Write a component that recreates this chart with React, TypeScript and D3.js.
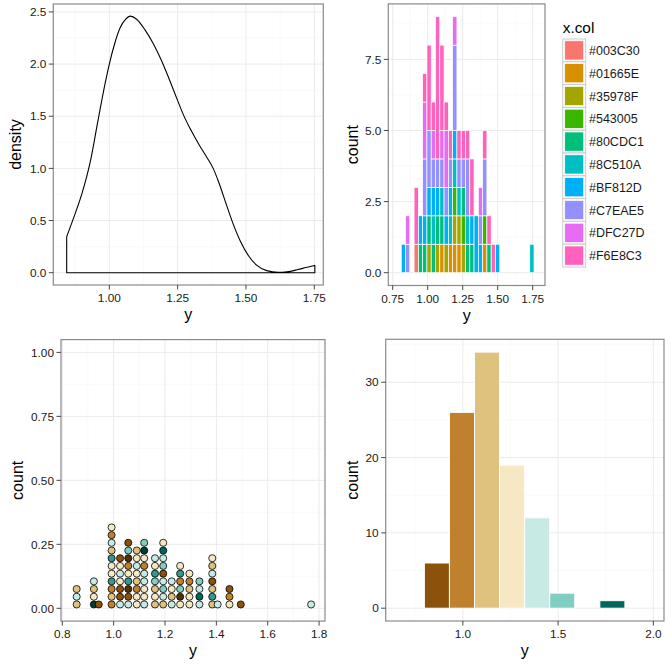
import React from "react";
import * as d3 from "d3";

const FONT = "'Liberation Sans', Arial, Helvetica, sans-serif";
const TEXT_COLOR = "#1A1A1A";
const TICK_COLOR = "#333333";

// ---------- Panel 1: density ----------
const densX = [0.844, 0.87, 0.9, 0.93, 0.96, 0.985, 1.0, 1.02, 1.04, 1.06, 1.076, 1.1, 1.13, 1.16, 1.19, 1.22, 1.25, 1.27, 1.3, 1.33, 1.356, 1.38, 1.4, 1.43, 1.45, 1.48, 1.51, 1.54, 1.576, 1.618, 1.65, 1.69, 1.72, 1.752];
const densY = [0.345, 0.53, 0.76, 1.06, 1.48, 1.82, 2.0, 2.2, 2.35, 2.43, 2.46, 2.43, 2.33, 2.2, 2.04, 1.85, 1.65, 1.52, 1.36, 1.22, 1.11, 1.0, 0.87, 0.64, 0.49, 0.3, 0.16, 0.07, 0.02, 0.003, 0.008, 0.03, 0.05, 0.07];
const p1XTicks = [1.0, 1.25, 1.5, 1.75];
const p1XLabels = ["1.00", "1.25", "1.50", "1.75"];
const p1YTicks = [0, 0.5, 1, 1.5, 2, 2.5];
const p1YLabels = ["0.0", "0.5", "1.0", "1.5", "2.0", "2.5"];

// ---------- Panel 2: stacked histogram ----------
const legendLevels = ["#003C30", "#01665E", "#35978F", "#543005", "#80CDC1", "#8C510A", "#BF812D", "#C7EAE5", "#DFC27D", "#F6E8C3"];
const hueColors = ["#F8766D", "#D89000", "#A3A500", "#39B600", "#00BF7D", "#00BFC4", "#00B0F6", "#9590FF", "#E76BF3", "#FF62BC"];
const histStart = 0.811;
const histBinWidth = 0.0306;
// per bin: [level (1-based), count], stacked bottom -> top
const histStacks: number[][][] = [
  [[7, 1]],
  [[8, 1], [9, 1]],
  [],
  [[1, 1], [10, 2]],
  [[5, 1], [7, 1]],
  [[5, 1], [7, 1], [8, 2], [9, 2], [10, 1]],
  [[3, 1], [5, 1], [7, 1], [8, 2], [10, 3]],
  [[5, 1], [6, 1], [7, 1], [8, 1], [9, 1], [10, 1]],
  [[3, 1], [5, 1], [7, 1], [8, 1], [10, 5]],
  [[2, 1], [5, 1], [6, 1], [8, 1], [9, 1], [10, 3]],
  [[3, 1], [7, 1], [8, 1], [9, 2], [10, 1]],
  [[2, 1], [6, 1], [7, 1], [8, 1], [10, 1]],
  [[2, 1], [3, 1], [4, 1], [6, 1], [7, 1], [8, 3], [9, 1]],
  [[2, 1], [3, 1], [6, 1], [8, 1], [10, 1]],
  [[3, 1], [4, 1], [5, 1], [8, 1], [10, 1]],
  [[5, 1], [6, 1], [8, 2], [10, 1]],
  [[5, 1], [7, 1], [10, 2]],
  [[7, 2]],
  [[7, 1], [8, 1], [9, 1]],
  [[2, 1], [4, 1], [8, 2], [10, 1]],
  [[5, 1], [10, 1]],
  [[10, 1]],
  [[7, 1]],
  [], [], [], [], [], [], [],
  [[6, 1]],
];
const p2XTicks = [0.75, 1.0, 1.25, 1.5, 1.75];
const p2XLabels = ["0.75", "1.00", "1.25", "1.50", "1.75"];
const p2YTicks = [0, 2.5, 5, 7.5];
const p2YLabels = ["0.0", "2.5", "5.0", "7.5"];

// ---------- Panel 3: dotplot ----------
const dotCenters = [0.856, 0.923, 0.942, 0.992, 1.025, 1.057, 1.09, 1.119, 1.161, 1.193, 1.226, 1.259, 1.295, 1.334, 1.384, 1.405, 1.451, 1.495, 1.769];
const dotFills: string[][] = [
  ["#DFC27D", "#C7EAE5", "#DFC27D"],
  ["#003C30", "#F6E8C3", "#DFC27D", "#C7EAE5"],
  ["#8C510A"],
  ["#BF812D", "#DFC27D", "#BF812D", "#35978F", "#F6E8C3", "#F6E8C3", "#35978F", "#DFC27D", "#C7EAE5", "#BF812D", "#F6E8C3"],
  ["#C7EAE5", "#8C510A", "#8C510A", "#F6E8C3", "#C7EAE5", "#F6E8C3", "#8C510A"],
  ["#C7EAE5", "#8C510A", "#543005", "#35978F", "#F6E8C3", "#BF812D", "#543005", "#80CDC1", "#8C510A"],
  ["#F6E8C3", "#F6E8C3", "#BF812D", "#DFC27D", "#F6E8C3", "#C7EAE5", "#F6E8C3", "#DFC27D"],
  ["#C7EAE5", "#F6E8C3", "#F6E8C3", "#C7EAE5", "#C7EAE5", "#BF812D", "#F6E8C3", "#003C30", "#80CDC1"],
  ["#DFC27D", "#F6E8C3", "#DFC27D", "#80CDC1", "#35978F", "#F6E8C3", "#C7EAE5"],
  ["#DFC27D", "#C7EAE5", "#80CDC1", "#C7EAE5", "#8C510A", "#80CDC1", "#C7EAE5", "#01665E", "#F6E8C3"],
  ["#C7EAE5", "#DFC27D", "#F6E8C3", "#C7EAE5"],
  ["#F6E8C3", "#543005", "#80CDC1", "#BF812D", "#35978F", "#F6E8C3"],
  ["#F6E8C3", "#F6E8C3", "#DFC27D", "#BF812D", "#F6E8C3"],
  ["#C7EAE5", "#01665E", "#C7EAE5", "#80CDC1"],
  ["#DFC27D", "#35978F", "#DFC27D", "#8C510A", "#C7EAE5", "#DFC27D", "#F6E8C3"],
  ["#C7EAE5"],
  ["#F6E8C3", "#BF812D", "#8C510A"],
  ["#8C510A"],
  ["#C7EAE5"],
];
const dotBinWidth = 0.0300;
const p3XTicks = [0.8, 1.0, 1.2, 1.4, 1.6, 1.8];
const p3XLabels = ["0.8", "1.0", "1.2", "1.4", "1.6", "1.8"];
const p3YTicks = [0, 0.25, 0.5, 0.75, 1.0];
const p3YLabels = ["0.00", "0.25", "0.50", "0.75", "1.00"];

// ---------- Panel 4: histogram with BrBG fill ----------
const bar4Start = 0.798;
const bar4Width = 0.1316;
const bar4Counts = [6, 26, 34, 19, 12, 2, 0, 1];
const bar4Colors = ["#8C510A", "#BF812D", "#DFC27D", "#F6E8C3", "#C7EAE5", "#80CDC1", "#35978F", "#01665E"];
const p4XTicks = [1.0, 1.5, 2.0];
const p4XLabels = ["1.0", "1.5", "2.0"];
const p4YTicks = [0, 10, 20, 30];
const p4YLabels = ["0", "10", "20", "30"];

function minorBreaks(major: number[], domain: number[]) {
  const step = major[1] - major[0];
  const out: number[] = [];
  for (let v = major[0] - step / 2; v <= domain[1] + 1e-9; v += step) {
    if (v >= domain[0]) out.push(v);
  }
  return out;
}

type FrameProps = {
  x: d3.ScaleLinear<number, number>;
  y: d3.ScaleLinear<number, number>;
  xTicks: number[];
  xLabels: string[];
  yTicks: number[];
  yLabels: string[];
  xTitle: string;
  yTitle: string;
  yTitleX: number;
  children?: React.ReactNode;
};

function Frame({ x, y, xTicks, xLabels, yTicks, yLabels, xTitle, yTitle, yTitleX, children }: FrameProps) {
  const [l, r] = x.range();
  const [b, t] = y.range();
  const xMinor = minorBreaks(xTicks, x.domain());
  const yMinor = minorBreaks(yTicks, y.domain());
  const tl = 4.5;
  return (
    <g>
      <rect x={l} y={t} width={r - l} height={b - t} fill="#FFFFFF" />
      {xMinor.map((v, i) => (
        <line key={"xm" + i} x1={x(v)} x2={x(v)} y1={t} y2={b} stroke="#F7F7F7" strokeWidth={0.6} />
      ))}
      {yMinor.map((v, i) => (
        <line key={"ym" + i} x1={l} x2={r} y1={y(v)} y2={y(v)} stroke="#F7F7F7" strokeWidth={0.6} />
      ))}
      {xTicks.map((v, i) => (
        <line key={"xM" + i} x1={x(v)} x2={x(v)} y1={t} y2={b} stroke="#EBEBEB" strokeWidth={1} />
      ))}
      {yTicks.map((v, i) => (
        <line key={"yM" + i} x1={l} x2={r} y1={y(v)} y2={y(v)} stroke="#EBEBEB" strokeWidth={1} />
      ))}
      {children}
      <rect x={l} y={t} width={r - l} height={b - t} fill="none" stroke="#8A8A8A" strokeWidth={1.2} />
      {xTicks.map((v, i) => (
        <g key={"xt" + i}>
          <line x1={x(v)} x2={x(v)} y1={b} y2={b + tl} stroke={TICK_COLOR} strokeWidth={0.9} />
          <text x={x(v)} y={b + 17} textAnchor="middle" fontSize={11.8} fill={TEXT_COLOR} fontFamily={FONT}>
            {xLabels[i]}
          </text>
        </g>
      ))}
      {yTicks.map((v, i) => (
        <g key={"yt" + i}>
          <line x1={l - tl} x2={l} y1={y(v)} y2={y(v)} stroke={TICK_COLOR} strokeWidth={0.9} />
          <text x={l - tl - 2.5} y={y(v) + 4.2} textAnchor="end" fontSize={11.8} fill={TEXT_COLOR} fontFamily={FONT}>
            {yLabels[i]}
          </text>
        </g>
      ))}
      <text x={(l + r) / 2} y={b + 35} textAnchor="middle" fontSize={16} fill="#000" fontFamily={FONT}>
        {xTitle}
      </text>
      <text
        transform={`translate(${yTitleX},${(t + b) / 2}) rotate(-90)`}
        textAnchor="middle"
        fontSize={16}
        fill="#000"
        fontFamily={FONT}
      >
        {yTitle}
      </text>
    </g>
  );
}

export default function App() {
  // Panel 1 scales
  const x1 = d3.scaleLinear().domain([0.795, 1.783]).range([53.3, 323.3]);
  const y1 = d3.scaleLinear().domain([-0.118, 2.576]).range([285, 4]);
  const pts = densX.map((v, i) => [x1(v), y1(densY[i])] as [number, number]);
  const curve = d3.line().curve(d3.curveMonotoneX)(pts) || "";
  const densPath =
    `M${x1(densX[0])},${y1(0)}L` + curve.slice(1) + `L${x1(densX[densX.length - 1])},${y1(0)}Z`;

  // Panel 2 scales
  const x2 = d3.scaleLinear().domain([0.7186, 1.838]).range([388.3, 545]);
  const y2 = d3.scaleLinear().domain([-0.45, 9.45]).range([285.5, 3.9]);
  const histRects: { x0: number; x1: number; c0: number; c1: number; fill: string }[] = [];
  histStacks.forEach((stack, k) => {
    const a = histStart + k * histBinWidth;
    let cum = 0;
    stack.forEach(([lev, n]) => {
      histRects.push({ x0: a, x1: a + histBinWidth, c0: cum, c1: cum + n, fill: hueColors[lev - 1] });
      cum += n;
    });
  });

  // Panel 3 scales
  const x3 = d3.scaleLinear().domain([0.795, 1.823]).range([61, 325]);
  const y3 = d3.scaleLinear().domain([-0.05, 1.05]).range([621.1, 339.6]);
  const dotD = x3(dotBinWidth) - x3(0);
  const dotR = dotD / 2;

  // Panel 4 scales
  const x4 = d3.scaleLinear().domain([0.595, 2.056]).range([385.7, 664]);
  const y4 = d3.scaleLinear().domain([-1.7, 35.7]).range([621, 339.3]);

  const legendTop = 39;
  const legendStep = 22.8;
  const legendX = 562.7;

  return (
    <svg width={671} height={667} style={{ position: "absolute", left: 0, top: 0, background: "#fff" }}>
      <rect x={0} y={0} width={671} height={667} fill="#FFFFFF" />

      <Frame x={x1} y={y1} xTicks={p1XTicks} xLabels={p1XLabels} yTicks={p1YTicks} yLabels={p1YLabels}
        xTitle="y" yTitle="density" yTitleX={21}>
        <path d={densPath} fill="none" stroke="#000" strokeWidth={1.1} strokeLinejoin="round" />
      </Frame>

      <Frame x={x2} y={y2} xTicks={p2XTicks} xLabels={p2XLabels} yTicks={p2YTicks} yLabels={p2YLabels}
        xTitle="y" yTitle="count" yTitleX={358.3}>
        {histRects.map((d, i) => (
          <rect key={i} x={x2(d.x0)} y={y2(d.c1)} width={x2(d.x1) - x2(d.x0)} height={y2(d.c0) - y2(d.c1)}
            fill={d.fill} stroke="#FFFFFF" strokeWidth={0.7} />
        ))}
      </Frame>

      <Frame x={x3} y={y3} xTicks={p3XTicks} xLabels={p3XLabels} yTicks={p3YTicks} yLabels={p3YLabels}
        xTitle="y" yTitle="count" yTitleX={22.7}>
        {dotCenters.map((cx, ci) =>
          dotFills[ci].map((f, j) => (
            <circle key={ci + "-" + j} cx={x3(cx)} cy={y3(0) - dotR - j * dotD} r={dotR - 0.3}
              fill={f} stroke="#000" strokeWidth={0.8} />
          ))
        )}
      </Frame>

      <Frame x={x4} y={y4} xTicks={p4XTicks} xLabels={p4XLabels} yTicks={p4YTicks} yLabels={p4YLabels}
        xTitle="y" yTitle="count" yTitleX={358.3}>
        {bar4Counts.map((n, i) =>
          n > 0 ? (
            <rect key={i} x={x4(bar4Start + i * bar4Width)} y={y4(n)}
              width={x4(bar4Start + (i + 1) * bar4Width) - x4(bar4Start + i * bar4Width)}
              height={y4(0) - y4(n)} fill={bar4Colors[i]} stroke="#FFFFFF" strokeWidth={1} />
          ) : null
        )}
      </Frame>

      {/* Legend */}
      <text x={legendX} y={33.3} fontSize={15.4} fill="#000" fontFamily={FONT}>x.col</text>
      {legendLevels.map((lab, i) => {
        const top = legendTop + i * legendStep;
        return (
          <g key={lab}>
            <rect x={legendX} y={top} width={23} height={legendStep} fill="#FFFFFF" stroke="#CCCCCC" strokeWidth={1} />
            <rect x={legendX + 2} y={top + 1.8} width={19} height={legendStep - 3.6} fill={hueColors[i]}
              stroke="#FFFFFF" strokeWidth={0.7} />
            <text x={589} y={top + legendStep / 2 + 4.5} fontSize={12.5} fill={TEXT_COLOR} fontFamily={FONT}>
              {lab}
            </text>
          </g>
        );
      })}
    </svg>
  );
}
